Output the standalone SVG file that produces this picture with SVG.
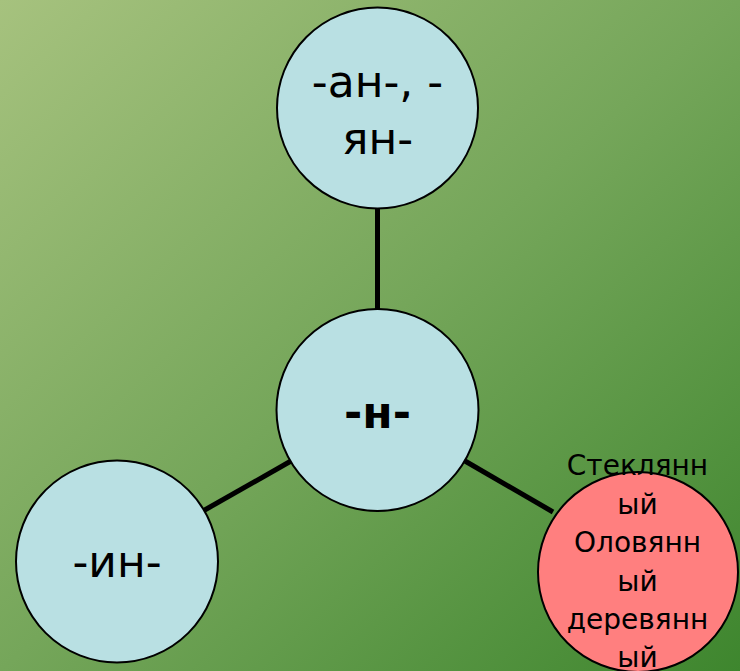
<svg xmlns="http://www.w3.org/2000/svg" width="740" height="671" viewBox="0 0 740 671">
<defs>
<linearGradient id="bg" x1="0" y1="0" x2="1" y2="1">
<stop offset="0" stop-color="#a6c27e"/>
<stop offset="0.5" stop-color="#75a65a"/>
<stop offset="1" stop-color="#3e862e"/>
</linearGradient>
<style>
.n{fill:#b9e0e3;stroke:#000;stroke-width:2}
.p{fill:#ff7f7f;stroke:#000;stroke-width:2}
.t{font-family:"DejaVu Sans",Verdana,sans-serif;font-size:44px;fill:#000;text-anchor:middle}
.s{font-family:"DejaVu Sans",Verdana,sans-serif;font-size:28px;fill:#000;text-anchor:middle}
.c{stroke:#000;stroke-width:5;fill:none}
</style>
</defs>
<rect width="740" height="671" fill="url(#bg)"/>
<g id="connectors">
<line class="c" x1="377.5" y1="208" x2="377.5" y2="310"/>
<line class="c" x1="291" y1="461" x2="203" y2="511"/>
<line class="c" x1="465" y1="461" x2="553" y2="512"/>
</g>
<g id="top">
<circle class="n" cx="377.5" cy="108" r="100.5"/>
<text class="t" x="377.5" y="97">-ан-, -</text>
<text class="t" x="377.5" y="154">ян-</text>
</g>
<g id="center">
<circle class="n" cx="377.5" cy="410" r="101"/>
<text class="t" x="377.5" y="428" font-weight="bold">-н-</text>
</g>
<g id="left">
<circle class="n" cx="117" cy="561.5" r="101"/>
<text class="t" x="117" y="577">-ин-</text>
</g>
<g id="right">
<circle class="p" cx="638" cy="572" r="100"/>
<text class="s" x="637.5" y="475">Стеклянн</text>
<text class="s" x="637.5" y="514">ый</text>
<text class="s" x="637.5" y="552">Оловянн</text>
<text class="s" x="637.5" y="591">ый</text>
<text class="s" x="637.5" y="629">деревянн</text>
<text class="s" x="637.5" y="667">ый</text>
</g>
</svg>
